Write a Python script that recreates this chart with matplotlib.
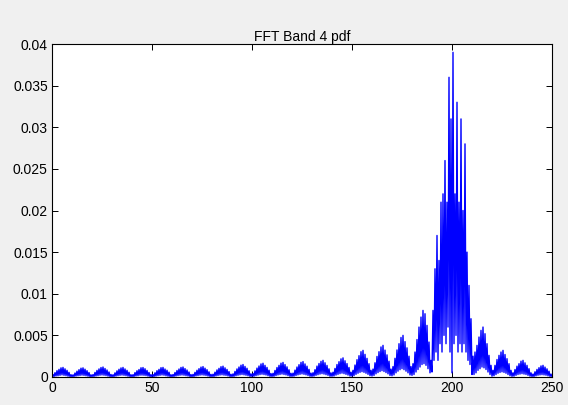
import numpy as np
import matplotlib
matplotlib.use('Agg')
import matplotlib.pyplot as plt

plt.rcParams['font.family'] = ['Liberation Sans', 'DejaVu Sans']

# pdf values, in units of 1e-5, one row per 10 bins (step 0.5)
pdf_rows = [
    [8, 30, 6, 52, 12, 76, 15, 92, 20, 110, 25, 115, 20, 98, 16, 80, 10, 56, 5, 28],
    [4, 26, 6, 48, 11, 70, 15, 88, 18, 106, 22, 110, 19, 94, 15, 76, 10, 54, 4, 26],
    [5, 29, 7, 55, 12, 79, 16, 97, 21, 114, 24, 120, 21, 102, 17, 84, 11, 60, 5, 30],
    [4, 27, 6, 50, 11, 74, 16, 93, 20, 109, 23, 115, 20, 97, 16, 80, 10, 57, 5, 27],
    [5, 28, 6, 53, 12, 75, 15, 90, 21, 111, 22, 114, 20, 99, 17, 79, 11, 55, 5, 28],
    [4, 29, 6, 51, 11, 76, 16, 92, 20, 112, 24, 115, 21, 96, 15, 81, 10, 58, 5, 27],
    [5, 30, 7, 54, 12, 78, 17, 96, 21, 115, 24, 120, 21, 101, 16, 84, 12, 60, 5, 29],
    [5, 31, 7, 56, 13, 81, 17, 100, 22, 119, 25, 125, 22, 106, 18, 88, 12, 62, 6, 31],
    [6, 33, 7, 58, 13, 85, 18, 104, 23, 124, 26, 130, 22, 110, 19, 91, 13, 65, 6, 32],
    [6, 37, 8, 67, 15, 97, 21, 120, 26, 142, 30, 150, 26, 127, 21, 105, 15, 75, 7, 37],
    [7, 41, 9, 74, 16, 107, 23, 132, 29, 157, 33, 165, 29, 140, 24, 115, 16, 82, 8, 41],
    [7, 44, 9, 79, 17, 114, 25, 140, 30, 166, 35, 175, 30, 149, 25, 122, 17, 87, 8, 44],
    [8, 46, 10, 83, 18, 120, 26, 148, 32, 176, 37, 185, 32, 157, 26, 130, 18, 92, 9, 46],
    [8, 51, 11, 88, 20, 131, 28, 162, 35, 188, 40, 200, 35, 171, 28, 139, 20, 98, 9, 49],
    [9, 57, 12, 103, 23, 150, 32, 184, 40, 218, 46, 230, 40, 195, 32, 161, 23, 115, 11, 57],
    [10, 80, 16, 144, 32, 208, 45, 256, 56, 304, 64, 320, 56, 272, 45, 224, 32, 160, 16, 80],
    [12, 95, 19, 171, 38, 247, 53, 304, 66, 361, 76, 380, 66, 323, 53, 266, 38, 190, 19, 95],
    [15, 125, 25, 225, 50, 325, 70, 400, 88, 475, 100, 500, 88, 425, 70, 350, 50, 250, 25, 125],
    [20, 160, 30, 300, 60, 450, 90, 600, 120, 720, 150, 800, 160, 760, 140, 620, 100, 420, 50, 200],
    [60, 800, 200, 1300, 300, 1700, 200, 1400, 400, 2100, 300, 2200, 500, 2600, 400, 2100, 600, 3600, 300, 3100],
    [50, 3900, 400, 2200, 500, 3300, 300, 2100, 400, 3100, 300, 2000, 400, 2800, 300, 1500, 200, 1100, 150, 700],
    [30, 250, 30, 300, 50, 380, 80, 480, 100, 560, 120, 600, 110, 520, 90, 400, 60, 260, 30, 140],
    [10, 80, 15, 140, 30, 210, 45, 260, 55, 300, 62, 320, 55, 270, 45, 220, 30, 160, 15, 80],
    [8, 50, 10, 90, 20, 130, 30, 160, 35, 190, 40, 200, 35, 170, 30, 140, 20, 100, 10, 50],
    [6, 35, 7, 63, 14, 91, 21, 112, 25, 133, 28, 140, 25, 119, 21, 98, 14, 70, 7, 35],
]
pdf_last = [5]

pdf = np.concatenate([np.concatenate(pdf_rows), pdf_last]) * 1e-5
bins = np.arange(len(pdf)) * 0.5

fig = plt.figure(figsize=(5.68, 4.05), dpi=100, facecolor='#f0f0f0')
ax = fig.add_axes([52 / 568, 28 / 405, 500 / 568, 333 / 405])
ax.plot(bins, pdf, color='#0000ff', linewidth=1.0)

ax.set_xlim(0, 250)
ax.set_ylim(0, 0.04)
ax.set_xticks([0, 50, 100, 150, 200, 250])
ax.set_yticks([0, 0.005, 0.01, 0.015, 0.02, 0.025, 0.03, 0.035, 0.04])
ax.set_yticklabels(['0', '0.005', '0.01', '0.015', '0.02', '0.025', '0.03', '0.035', '0.04'])
ax.tick_params(direction='in', top=True, right=True, labelsize=10, length=4, width=0.7, pad=3)
for s in ax.spines.values():
    s.set_linewidth(0.8)
ax.set_title('FFT Band 4 pdf', fontsize=10, pad=2)

fig.savefig('out.png', dpi=100, facecolor=fig.get_facecolor())
